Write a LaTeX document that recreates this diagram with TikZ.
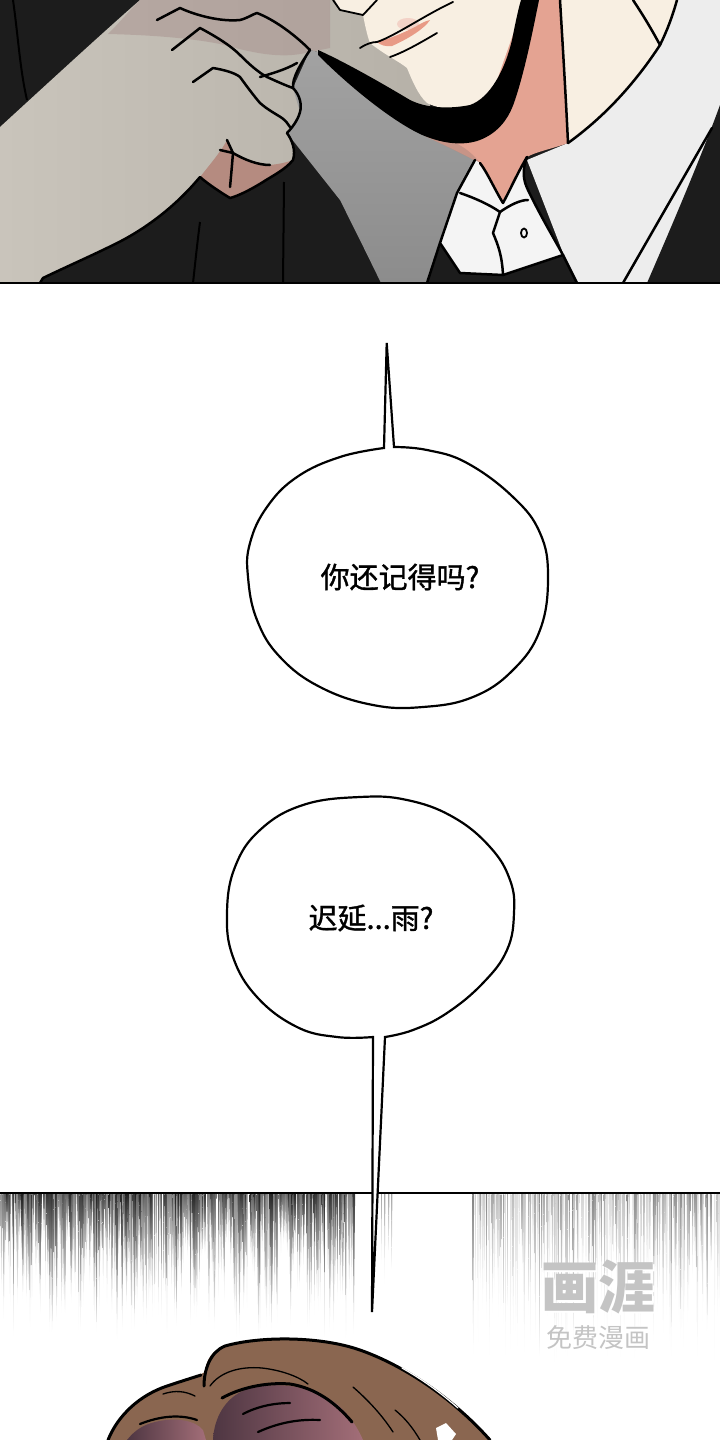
\documentclass[tikz,border=0pt]{standalone}
\usepackage{fontspec}
\newfontfamily\cjk{Noto Sans CJK SC}
\newfontfamily\cjkb[FakeBold=1.2]{Noto Sans CJK SC}
\definecolor{suit}{HTML}{1C1C1C}
\definecolor{armL}{HTML}{C9C4BB}
\definecolor{armR}{HTML}{B6B1A8}
\definecolor{fingersh}{HTML}{A8918E}
\definecolor{knuckle}{HTML}{B58B80}
\definecolor{lapelT}{HTML}{A2A2A2}
\definecolor{lapelB}{HTML}{8C8C8C}
\definecolor{shirt}{HTML}{EDEDED}
\definecolor{cream}{HTML}{F8EFE2}
\definecolor{neck}{HTML}{E4A392}
\definecolor{lip}{HTML}{E89A86}
\definecolor{blush}{HTML}{F0C0B5}
\definecolor{collar}{HTML}{F4F4F4}
\definecolor{hairbrown}{HTML}{8A6650}
\definecolor{hairdark}{HTML}{4E3642}
\definecolor{hairpink}{HTML}{A36E78}
\definecolor{wm}{HTML}{C4C4C4}
\tikzset{
  ink/.style={draw=black, line width=2.5, line cap=round, line join=round},
  thinink/.style={draw=black, line width=1.8, line cap=round, line join=round},
  bubble/.style={draw=black, line width=2.2, fill=white, line join=miter},
  btext/.style={font=\cjkb\fontsize{29}{34}\selectfont, inner sep=0pt},
  border/.style={draw=black, line width=2.6}
}
\begin{document}
\begin{tikzpicture}[x=1pt,y=-1pt]
\useasboundingbox (0,0) rectangle (720,1440);
\fill[white] (0,0) rectangle (720,1440);

% ================= TOP PANEL =================
\begin{scope}
\clip (0,0) rectangle (720,283);
\fill[suit] (0,0) rectangle (720,283);
\draw[black, line width=2] (13,0) .. controls (18,35) and (20,70) .. (27,100);
% arm and hand
\shade[left color=armL, right color=armR] (0,283) -- (0,127) .. controls (35,95) and (100,35) .. (140,0) -- (430,0) -- (430,115) -- (318,52) -- (310,50)
  .. controls (300,65) and (292,78) .. (293,88) .. controls (300,95) and (302,105) .. (300,112)
  .. controls (298,120) and (292,128) .. (287,133) .. controls (292,140) and (296,150) .. (293,160)
  .. controls (285,170) and (272,176) .. (263,182) .. controls (250,190) and (238,196) .. (230,198)
  .. controls (220,192) and (208,184) .. (200,177) .. controls (185,195) and (160,220) .. (123,240)
  .. controls (100,252) and (70,265) .. (43,278) -- (40,283) -- cycle;
% shadow band on fingers
\fill[fingersh, opacity=0.5] (108,34) .. controls (120,22) and (130,10) .. (140,0) -- (330,0) -- (330,48) -- (310,52)
  .. controls (280,60) and (250,52) .. (220,44) .. controls (190,38) and (150,35) .. (108,34) -- cycle;
% knuckle
\fill[knuckle] (200,177) .. controls (212,162) and (222,150) .. (227,140) -- (233,153)
  .. controls (245,160) and (258,165) .. (270,165) .. controls (280,164) and (288,162) .. (293,160)
  .. controls (285,170) and (272,176) .. (263,182) .. controls (250,190) and (238,196) .. (230,198)
  .. controls (220,192) and (208,184) .. (200,177) -- cycle;
% grey lapel
\shade[top color=lapelT, bottom color=lapelB] (310,50) -- (318,52) .. controls (360,80) and (400,110) .. (440,136) -- (475,158)
  -- (459,187) -- (441,243) -- (427,283) -- (381,283) .. controls (365,250) and (350,220) .. (340,200)
  -- (287,133) -- (300,112) -- (293,88) -- cycle;
% light grey shirt
\fill[shirt] (558,0) -- (720,0) -- (720,283) -- (577,283) -- (563,253) -- (527,160) -- (568,143) -- cycle;
% right black suit
\fill[suit] (720,105) -- (720,283) -- (647,283) .. controls (670,230) and (700,160) .. (720,105) -- cycle;
\draw[ink] (712,128) -- (623,283);
% cream (ear / cheek) right of the neck
\fill[cream] (560,0) -- (677,0) .. controls (672,18) and (666,33) .. (660,45) .. controls (632,88) and (600,120) .. (568,143)
  .. controls (566,100) and (563,50) .. (560,0) -- cycle;
\draw[ink] (677,0) .. controls (672,18) and (666,33) .. (660,45) .. controls (632,88) and (600,120) .. (568,143);
\draw[ink] (633,0) .. controls (643,15) and (652,30) .. (660,45);
% neck
\fill[neck] (520,0) -- (560,0) .. controls (563,50) and (566,100) .. (568,143) .. controls (555,148) and (535,152) .. (527,157)
  .. controls (518,172) and (510,190) .. (503,203) .. controls (495,190) and (487,172) .. (480,163)
  .. controls (465,155) and (445,145) .. (425,136) -- (470,120) -- cycle;
\fill[knuckle, opacity=0.6] (425,136) -- (480,163) .. controls (470,150) and (460,145) .. (450,140) -- cycle;
\draw[ink] (560,0) .. controls (563,50) and (566,100) .. (568,143);
% face
\fill[cream] (335,0) -- (340,10) -- (363,15) .. controls (365,25) and (367,35) .. (370,43)
  .. controls (385,55) and (400,62) .. (407,68) .. controls (412,80) and (418,95) .. (427,103)
  .. controls (445,112) and (470,110) .. (490,100) -- (525,0) -- cycle;
\fill[blush, opacity=0.6] (408,24) ellipse (11 and 6);
\draw[thinink] (333,0) -- (340,10) -- (363,15) -- (377,0);
\fill[lip] (377,42) .. controls (392,38) and (405,32) .. (415,27) .. controls (420,24) and (425,21) .. (430,20)
  .. controls (425,28) and (410,38) .. (392,46) .. controls (386,47) and (380,45) .. (377,42) -- cycle;
\draw[thinink] (360,48) .. controls (366,44) and (372,42) .. (377,42) .. controls (395,36) and (425,15) .. (453,2);
\draw[thinink] (390,57) .. controls (405,52) and (425,40) .. (437,33);
% black jaw shadow
\fill[black] (318,50) .. controls (345,62) and (385,85) .. (410,100) .. controls (430,110) and (455,108) .. (470,105)
  .. controls (490,98) and (505,70) .. (512,40) .. controls (515,25) and (518,10) .. (521,0) -- (539,0)
  .. controls (533,30) and (525,70) .. (515,100) .. controls (508,122) and (495,135) .. (477,141)
  .. controls (460,146) and (440,143) .. (420,134) .. controls (395,122) and (355,92) .. (318,55) -- cycle;
% collar
\fill[collar] (475,160) -- (480,163) .. controls (487,172) and (495,190) .. (503,203) .. controls (510,190) and (518,172) .. (527,157)
  .. controls (522,170) and (523,180) .. (528,190) .. controls (540,215) and (552,235) .. (563,255)
  -- (503,275) -- (460,273) -- (440,243) -- (457,193) -- cycle;
\draw[ink] (475,160) -- (457,193) -- (440,243) -- (460,273) -- (503,275) -- (563,255);
\draw[ink] (480,163) .. controls (487,172) and (495,190) .. (503,203) .. controls (510,190) and (518,172) .. (527,157);
\draw[ink] (527,157) .. controls (522,170) and (523,180) .. (528,190) .. controls (540,215) and (552,235) .. (563,255);
\draw[ink] (460,193) .. controls (475,198) and (490,205) .. (500,212) .. controls (510,205) and (520,200) .. (528,200);
\draw[ink] (500,212) -- (493,233) .. controls (498,245) and (502,255) .. (503,275);
\draw[thinink, fill=collar] (524,233) ellipse (3 and 4.5);
\draw[ink] (563,255) -- (577,283);
\draw[ink] (440,243) -- (427,283);
% outlines of fist and arm
\draw[ink] (310,50) .. controls (300,65) and (292,78) .. (293,88) .. controls (300,95) and (302,105) .. (300,112)
  .. controls (298,120) and (292,128) .. (287,133) .. controls (292,140) and (296,150) .. (293,160)
  .. controls (285,170) and (272,176) .. (263,182) .. controls (250,190) and (238,196) .. (230,198)
  .. controls (220,192) and (208,184) .. (200,177) .. controls (185,195) and (160,220) .. (123,240)
  .. controls (100,252) and (70,265) .. (43,278) -- (40,283);
% finger lines
\draw[ink] (157,20) -- (180,8) .. controls (195,15) and (220,22) .. (240,20) .. controls (248,18) and (253,14) .. (257,13)
  .. controls (275,20) and (295,35) .. (310,50);
\draw[ink] (172,50) -- (200,28) .. controls (215,36) and (230,45) .. (240,55) .. controls (250,65) and (258,72) .. (267,77)
  .. controls (278,82) and (287,86) .. (293,88);
\draw[ink] (260,77) .. controls (270,74) and (285,70) .. (297,63);
\draw[ink] (193,82) -- (213,68) .. controls (225,70) and (235,73) .. (240,77) .. controls (248,88) and (254,96) .. (260,103)
  .. controls (268,110) and (276,114) .. (282,118) .. controls (286,121) and (288,124) .. (290,127);
\draw[ink] (227,140) -- (233,153) .. controls (232,165) and (231,177) .. (230,187);
\draw[ink] (220,150) -- (233,153) .. controls (245,160) and (258,165) .. (270,165);
% subtle folds in dark suit
\draw[black, line width=2] (200,222) .. controls (197,245) and (195,265) .. (193,283);
\draw[black, line width=2] (284,182) -- (283,283);
\end{scope}
\draw[border] (0,283) -- (720,283);

% ================= BOTTOM PANEL =================
\begin{scope}
\clip (0,1193) rectangle (720,1440);
\pgfmathsetseed{4242}
\foreach \i in {0,...,200}{
  \pgfmathsetmacro\xx{\i*1.76+rnd*1.5}
  \pgfmathsetmacro\len{45+rnd*100}
  \pgfmathsetmacro\w{1+rnd*3}
  \pgfmathtruncatemacro\dk{45+rnd*45}
  \shade[top color=black!\dk, bottom color=white] (\xx,1194) -- ++(\w,0) -- ++(-0.5*\w,\len) -- cycle;
}
\foreach \xx/\len in {381/70,384/90,388/60,391/75}{
  \shade[top color=black!35, bottom color=white] (\xx,1194) -- ++(1.4,0) -- ++(-0.7,\len) -- cycle;
}
\foreach \i in {0,...,110}{
  \pgfmathsetmacro\xx{472+\i*2.3+rnd*1.5}
  \pgfmathsetmacro\len{70+rnd*100}
  \pgfmathsetmacro\w{0.8+rnd*2}
  \pgfmathtruncatemacro\dk{10+rnd*40}
  \shade[top color=black!\dk, bottom color=white] (\xx,1194) -- ++(\w,0) -- ++(-0.5*\w,\len) -- cycle;
}
% hair
\fill[hairbrown] (108,1440) .. controls (118,1415) and (140,1395) .. (167,1386) .. controls (185,1380) and (198,1376) .. (205,1372)
  .. controls (206,1360) and (212,1350) .. (225,1346) .. controls (260,1336) and (320,1336) .. (360,1350)
  .. controls (400,1364) and (450,1395) .. (490,1440) -- cycle;
\shade[left color=hairdark, right color=hairpink] (213,1440) .. controls (214,1418) and (225,1398) .. (245,1390)
  .. controls (275,1380) and (315,1386) .. (338,1405) .. controls (350,1416) and (358,1428) .. (363,1440) -- cycle;
\shade[left color=hairdark, right color=hairpink] (127,1440) .. controls (135,1430) and (143,1425) .. (155,1422)
  .. controls (175,1417) and (195,1420) .. (203,1430) -- (206,1440) -- cycle;
\draw[black, line width=3, line cap=round] (222,1398) .. controls (240,1388) and (265,1382) .. (290,1384)
  .. controls (315,1388) and (335,1402) .. (352,1422);
\draw[black, line width=2.2, line cap=round] (243,1414) .. controls (258,1406) and (275,1403) .. (290,1403);
\draw[black, line width=2.2, line cap=round] (258,1432) .. controls (280,1422) and (300,1419) .. (320,1420);
\draw[black, line width=2.2, line cap=round] (140,1424) .. controls (160,1416) and (180,1414) .. (197,1420);
\draw[black, line width=1.3, line cap=round] (210,1386) .. controls (220,1372) and (240,1366) .. (262,1368) .. controls (280,1370) and (298,1376) .. (308,1384);
\draw[black, line width=1.3, line cap=round] (163,1394) .. controls (175,1390) and (185,1391) .. (195,1396);
\draw[black, line width=1.3, line cap=round] (353,1387) .. controls (368,1400) and (382,1415) .. (393,1432);
\draw[black, line width=1.3, line cap=round] (395,1410) .. controls (405,1418) and (413,1428) .. (420,1440);
\fill[white] (436,1428) -- (446,1423) -- (456,1434) -- (452,1440) -- (438,1440) -- cycle;
\draw[black, line width=3, line cap=round] (108,1440) .. controls (118,1415) and (140,1395) .. (167,1386) .. controls (185,1380) and (195,1377) .. (201,1375);
\draw[black, line width=3, line cap=round] (204,1386) .. controls (204,1370) and (210,1352) .. (225,1346) .. controls (260,1336) and (320,1336) .. (360,1350)
  .. controls (400,1364) and (450,1395) .. (490,1440);
\draw[white, line width=1.2, line cap=round] (402,1368) .. controls (420,1378) and (440,1392) .. (458,1408);
% watermark
\node[font=\cjk\bfseries\fontsize{57}{60}\selectfont, text=white, inner sep=0pt] (wmshadow) at (600,1289) {画涯};
\node[font=\cjk\bfseries\fontsize{57}{60}\selectfont, text=wm, inner sep=0pt] (wmlogo) at (598,1287) {画涯};
\node[font=\cjk\fontsize{26}{30}\selectfont, text=white, inner sep=0pt] (wmtextshadow) at (599.5,1339.5) {免费漫画};
\node[font=\cjk\fontsize{26}{30}\selectfont, text=wm, inner sep=0pt] (wmtext) at (598,1338) {免费漫画};
\end{scope}
\draw[border] (0,1193) -- (720,1193);

% ================= BUBBLES =================
\draw[bubble] (394,447) -- (386.7,343) -- (384,448) -- plot[smooth, tension=0.7] coordinates {(384,448) (340,457) (297,477) (267,507) (250,543) (248,577) (257,620) (280,657) (320,687) (373,705) (423,707) (473,697) (513,670) (540,630) (548,577) (540,533) (513,497) (467,463) (427,450) (394,447)} -- cycle;
\node[btext] (t1) at (400,577) {你还记得吗?};

\draw[bubble] (385,1037) -- (372,1312) -- (373,1037) -- plot[smooth, tension=0.7] coordinates {(373,1037) (337,1037) (297,1027) (257,997) (233,957) (227,913) (235,867) (260,830) (303,805) (360,797) (407,800) (453,817) (490,847) (510,880) (514,913) (507,950) (483,983) (447,1013) (413,1030) (385,1037)} -- cycle;
\node[btext] (t2) at (371,918) {迟延...雨?};
\end{tikzpicture}
\end{document}
